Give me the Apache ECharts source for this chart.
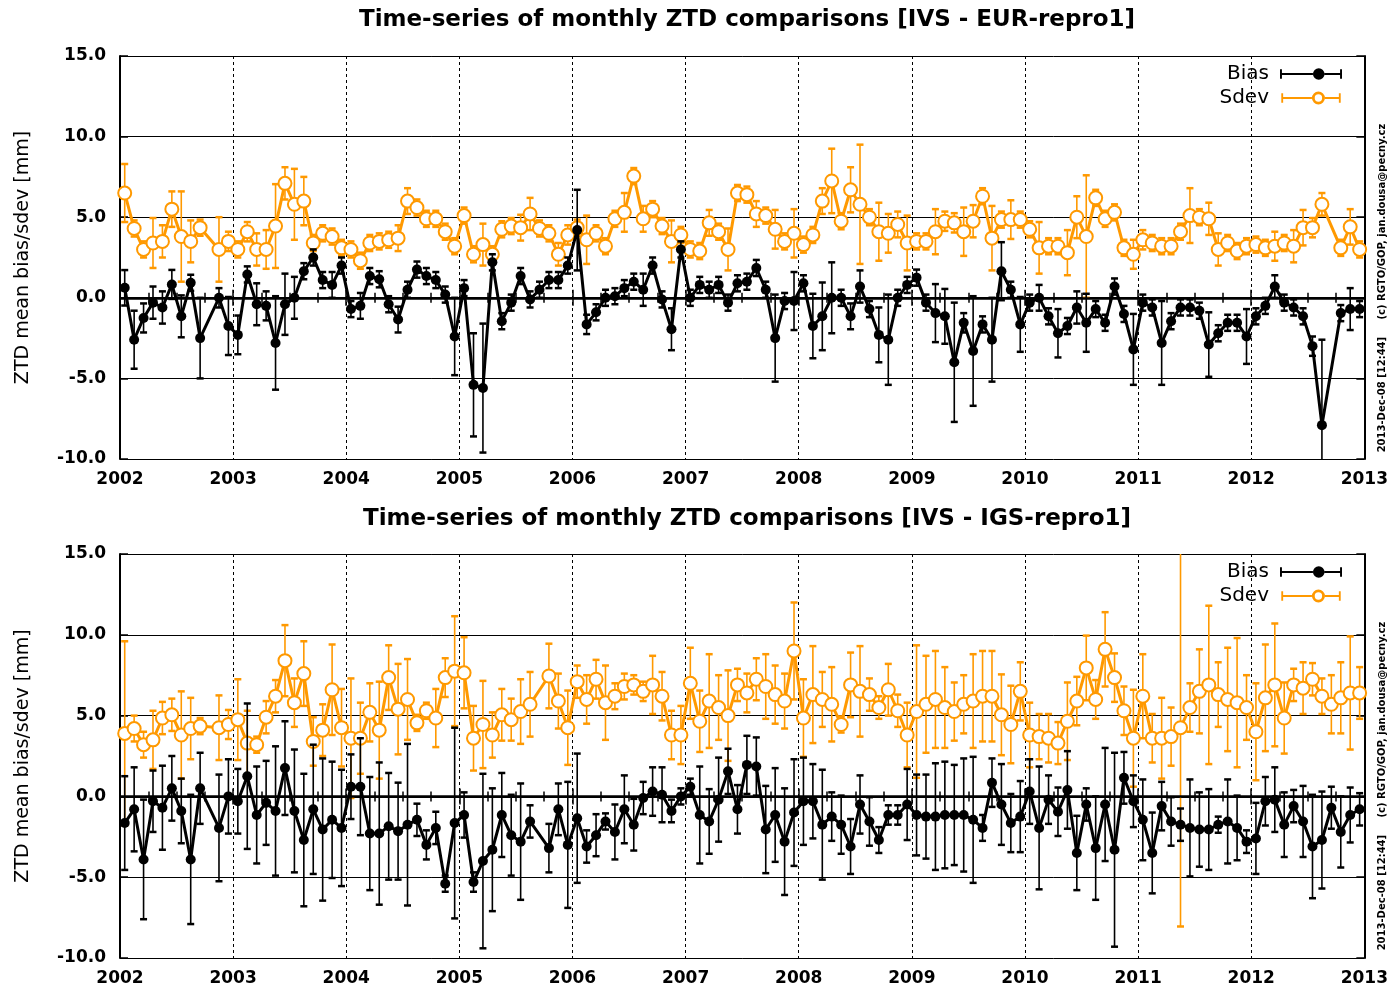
<!DOCTYPE html>
<html>
<head>
<meta charset="utf-8">
<title>Monthly ZTD comparisons</title>
<script src="https://cdn.jsdelivr.net/npm/echarts@6/dist/echarts.min.js"></script>
<style>
  html, body { margin: 0; padding: 0; background: #fff; }
  #chart { width: 1391px; height: 991px; }
</style>
</head>
<body>
<div id="chart"></div>
<script>
// monthly categories 2002-01 .. 2012-12
const months = []
for (let y = 2002; y < 2013; y++) for (let m = 1; m <= 12; m++) months.push(y + '-' + String(m).padStart(2, '0'))

const titles = [
  'Time-series of monthly ZTD comparisons [IVS - EUR-repro1]',
  'Time-series of monthly ZTD comparisons [IVS - IGS-repro1]'
]

// ---- IVS - EUR-repro1 (mm) ----
const biasEur = [
  0.62, -2.6, -1.25, -0.3, -0.6, 0.83, -1.15, 0.93, -2.5, null, 0.0, -1.75,
  -2.3, 1.45, -0.4, -0.5, -2.8, -0.4, 0.0, 1.65, 2.5, 1.1, 0.8, 2.0,
  -0.7, -0.5, 1.35, 1.15, -0.4, -1.35, 0.5, 1.75, 1.35, 1.1, 0.2, -2.4,
  0.6, -5.4, -5.6, 2.2, -1.45, -0.3, 1.35, -0.1, 0.5, 1.1, 1.1, 2.0,
  4.2, -1.65, -0.9, 0.0, 0.1, 0.6, 1.0, 0.5, 2.0, -0.1, -1.95, 3.0,
  0.0, 0.8, 0.5, 0.8, -0.3, 0.9, 1.0, 1.85, 0.5, -2.5, -0.2, -0.2,
  0.9, -1.75, -1.15, 0.0, 0.0, -1.15, 0.7, -0.7, -2.3, -2.6, 0.0, 0.8,
  1.25, -0.3, -0.95, -1.15, -4.0, -1.55, -3.3, -1.65, -2.6, 1.65, 0.5, -1.65,
  -0.3, 0.0, -1.15, -2.2, -1.75, -0.6, -1.55, -0.7, -1.55, 0.7, -1.0, -3.2,
  -0.3, -0.6, -2.8, -1.45, -0.6, -0.6, -0.8, -2.9, -2.2, -1.55, -1.55, -2.4,
  -1.15, -0.5, 0.7, -0.3, -0.6, -1.15, -3.0, -7.9, null, -0.95, -0.7, -0.7
]
const biasEurErr = [
  1.1, 1.8, 0.9, 1.0, 1.0, 0.9, 1.3, 0.5, 2.5, null, 0.6, 1.8,
  1.2, 0.5, 1.3, 0.9, 2.9, 1.9, 1.3, 0.5, 0.5, 0.5, 0.8, 0.5,
  0.5, 0.8, 0.5, 0.5, 0.5, 0.8, 0.5, 0.5, 0.5, 0.5, 0.5, 2.4,
  0.5, 3.2, 4.0, 0.5, 0.5, 0.5, 0.5, 0.5, 0.5, 0.5, 0.5, 0.5,
  2.5, 0.6, 0.5, 0.5, 0.5, 0.5, 0.5, 1.0, 0.5, 0.5, 1.3, 0.5,
  0.5, 0.5, 0.5, 0.5, 0.5, 0.5, 0.5, 0.5, 0.5, 2.7, 0.5, 1.8,
  0.5, 2.0, 2.1, 2.2, 0.5, 0.8, 1.0, 0.5, 1.7, 2.8, 0.5, 0.5,
  0.5, 0.5, 1.8, 1.7, 3.7, 0.6, 3.4, 0.5, 2.6, 1.8, 0.5, 1.7,
  0.5, 0.8, 0.5, 1.5, 0.5, 1.0, 1.8, 0.5, 0.5, 0.5, 0.5, 2.2,
  0.5, 0.5, 2.6, 0.5, 0.5, 0.5, 0.5, 2.0, 0.5, 0.5, 0.5, 1.7,
  0.5, 0.5, 0.7, 0.5, 0.5, 0.5, 0.6, 5.3, null, 0.5, 1.3, 0.5
]
const sdevEur = [
  6.5, 4.3, 3.0, 3.4, 3.5, 5.5, 3.8, 3.5, 4.35, null, 3.0, 3.5,
  3.0, 4.1, 3.0, 3.0, 4.45, 7.1, 5.8, 6.0, 3.4, 4.0, 3.8, 3.1,
  3.0, 2.3, 3.4, 3.5, 3.6, 3.7, 6.0, 5.6, 4.9, 4.9, 4.1, 3.2,
  5.1, 2.7, 3.3, 2.7, 4.25, 4.45, 4.35, 5.2, 4.3, 4.0, 2.7, 3.9,
  4.35, 3.6, 4.0, 3.2, 4.9, 5.3, 7.55, 4.9, 5.5, 4.45, 3.5, 3.9,
  3.0, 2.9, 4.65, 4.1, 3.0, 6.5, 6.4, 5.2, 5.1, 4.25, 3.5, 4.0,
  3.3, 3.9, 6.0, 7.25, 4.75, 6.7, 5.8, 5.0, 4.1, 4.0, 4.55, 3.4,
  3.5, 3.5, 4.1, 4.75, 4.65, 4.1, 4.75, 6.3, 3.7, 4.85, 4.85, 4.85,
  4.25, 3.1, 3.2, 3.2, 2.8, 5.0, 3.8, 6.2, 4.9, 5.3, 3.1, 2.7,
  3.6, 3.4, 3.2, 3.2, 4.1, 5.1, 5.0, 4.9, 3.0, 3.4, 2.9, 3.2,
  3.3, 3.1, 3.2, 3.4, 3.2, 4.35, 4.35, 5.8, null, 3.1, 4.4, 3.0
]
const sdevEurErr = [
  1.8, 0.5, 0.5, 1.55, 1.0, 1.1, 2.8, 1.3, 0.5, null, 2.0, 0.6,
  0.5, 0.6, 1.0, 1.2, 2.6, 1.0, 2.2, 1.5, 0.5, 0.5, 0.5, 0.5,
  0.5, 0.5, 0.5, 0.5, 0.5, 0.8, 0.8, 0.5, 0.5, 0.5, 0.5, 0.5,
  0.5, 0.5, 1.3, 0.5, 0.5, 0.5, 0.8, 1.0, 0.5, 0.5, 0.7, 0.6,
  0.5, 1.5, 0.5, 0.5, 0.5, 1.2, 0.5, 0.8, 0.5, 0.5, 1.3, 0.5,
  0.5, 0.5, 0.8, 0.5, 1.3, 0.5, 0.5, 0.8, 0.5, 1.2, 0.5, 1.5,
  0.5, 0.5, 0.8, 2.0, 0.5, 1.4, 3.7, 0.5, 1.8, 1.2, 0.8, 1.7,
  0.5, 0.5, 1.4, 0.6, 0.6, 1.5, 1.0, 0.5, 2.0, 0.5, 1.2, 0.5,
  0.5, 1.6, 0.5, 0.5, 1.4, 1.3, 3.8, 0.5, 0.5, 0.5, 0.5, 0.9,
  0.6, 0.5, 0.5, 0.5, 0.5, 1.7, 0.5, 1.0, 1.0, 0.5, 0.5, 0.5,
  0.5, 0.5, 0.9, 0.5, 1.0, 1.1, 0.6, 0.7, null, 0.5, 1.1, 0.5
]

// ---- IVS - IGS-repro1 (mm) ----
const biasIgs = [
  -1.65, -0.8, -3.9, -0.3, -0.7, 0.5, -0.9, -3.9, 0.5, null, -1.95, 0.0,
  -0.3, 1.25, -1.15, -0.4, -0.9, 1.75, -0.9, -2.7, -0.8, -2.05, -1.45, -1.95,
  0.6, 0.6, -2.3, -2.3, -1.85, -2.15, -1.75, -1.45, -3.0, -1.95, -5.4, -1.65,
  -1.15, -5.3, -4.0, -3.3, -1.15, -2.4, -2.8, -1.55, null, -3.2, -0.8, -3.0,
  -1.35, -3.1, -2.4, -1.55, -2.2, -0.8, -1.75, -0.1, 0.3, 0.1, -0.9, 0.0,
  0.6, -1.15, -1.55, -0.2, 1.55, -0.8, 1.95, 1.85, -2.05, -1.15, -2.8, -1.0,
  -0.3, -0.3, -1.75, -1.25, -1.75, -3.1, -0.5, -1.55, -2.7, -1.15, -1.15, -0.5,
  -1.15, -1.25, -1.25, -1.15, -1.15, -1.15, -1.45, -1.95, 0.85, -0.5, -1.65, -1.25,
  0.3, -1.95, -0.2, -0.95, 0.4, -3.5, -0.5, -3.2, -0.5, -3.3, 1.15, -0.3,
  -1.45, -3.5, -0.6, -1.55, -1.75, -1.95, -2.05, -2.05, -1.75, -1.55, -1.95, -2.8,
  -2.6, -0.3, -0.2, -1.75, -0.6, -1.55, -3.1, -2.7, -0.7, -2.2, -1.15, -0.8
]
const biasIgsErr = [
  2.9, 2.6, 3.7, 1.9, 2.6, 2.0, 2.0, 4.0, 2.2, null, 3.3, 2.3,
  2.0, 4.5, 3.0, 2.6, 4.0, 2.9, 3.8, 4.1, 4.0, 4.4, 3.6, 3.6,
  2.0, 3.0, 3.5, 4.4, 3.3, 3.0, 5.0, 1.0, 0.9, 1.0, 0.5, 5.9,
  1.4, 0.6, 5.4, 3.8, 2.6, 2.5, 3.6, 1.0, null, 1.5, 1.6, 3.9,
  4.0, 1.0, 1.3, 0.5, 1.7, 2.1, 1.6, 1.0, 1.5, 1.7, 0.7, 0.5,
  0.5, 3.0, 2.0, 2.6, 1.4, 1.5, 1.8, 1.8, 2.7, 2.9, 3.3, 3.3,
  2.7, 2.3, 3.4, 1.5, 1.8, 1.7, 1.8, 1.5, 0.8, 0.6, 0.6, 2.2,
  2.5, 2.6, 3.3, 3.3, 3.1, 3.5, 3.9, 0.8, 1.5, 2.5, 1.8, 2.2,
  2.0, 3.8, 1.5, 1.5, 2.4, 2.3, 1.0, 3.2, 3.5, 6.0, 1.6, 1.6,
  2.5, 2.5, 1.5, 1.5, 1.0, 3.0, 2.3, 2.5, 0.5, 2.6, 2.0, 0.7,
  2.2, 1.5, 2.0, 2.0, 1.0, 2.2, 3.2, 3.0, 1.3, 2.2, 1.7, 1.0
]
const sdevIgs = [
  3.9, 4.2, 3.2, 3.5, 4.85, 5.05, 3.8, 4.2, 4.35, null, 4.25, 4.45,
  4.75, 3.3, 3.2, 4.9, 6.2, 8.4, 5.8, 7.6, 3.4, 4.1, 6.6, 4.25,
  3.6, 3.6, 5.2, 4.1, 7.35, 5.4, 6.0, 4.55, 5.3, 4.85, 7.35, 7.75,
  7.65, 3.6, 4.45, 3.8, 5.05, 4.75, 5.25, 5.7, null, 7.45, 5.9, 4.25,
  7.1, 6.0, 7.25, 5.8, 6.2, 6.8, 6.9, 6.5, 6.9, 6.2, 3.8, 3.8,
  7.0, 4.65, 5.9, 5.5, 5.0, 6.9, 6.4, 7.25, 6.8, 6.3, 5.9, 9.0,
  4.85, 6.3, 6.0, 5.7, 4.45, 6.9, 6.5, 6.3, 5.5, 6.6, 5.3, 3.8,
  5.25, 5.7, 6.0, 5.5, 5.25, 5.7, 5.9, 6.2, 6.2, 5.05, 4.45, 6.5,
  3.8, 3.7, 3.6, 3.3, 4.65, 5.9, 7.95, 6.0, 9.1, 7.35, 5.3, 3.6,
  6.2, 3.6, 3.6, 3.7, 4.25, 5.5, 6.5, 6.9, 6.3, 6.0, 5.8, 5.5,
  4.0, 6.1, 6.9, 4.85, 6.9, 6.7, 7.25, 6.2, 5.7, 6.1, 6.4, 6.4
]
const sdevIgsErr = [
  5.7, 0.8, 0.8, 1.8, 1.0, 1.0, 2.7, 1.9, 0.5, null, 2.0, 0.9,
  2.5, 2.0, 0.5, 1.0, 1.0, 2.2, 1.5, 2.0, 1.5, 1.6, 2.8, 2.4,
  3.7, 2.2, 1.8, 3.0, 2.0, 2.8, 2.5, 0.5, 0.5, 1.8, 1.2, 3.4,
  2.2, 2.0, 2.7, 1.4, 1.6, 1.3, 2.0, 2.0, null, 2.0, 1.7, 2.3,
  1.0, 1.5, 1.2, 2.3, 0.8, 0.8, 0.6, 0.6, 1.8, 1.5, 1.5, 1.8,
  2.2, 1.9, 2.9, 2.0, 2.8, 1.0, 1.2, 1.3, 2.0, 1.8, 1.7, 3.0,
  2.4, 3.0, 1.7, 2.3, 0.5, 2.0, 2.8, 1.0, 0.7, 1.6, 1.0, 2.0,
  4.1, 3.0, 3.0, 2.5, 1.8, 1.8, 2.9, 2.8, 2.8, 2.5, 2.4, 1.8,
  2.0, 1.4, 1.5, 1.3, 2.4, 1.5, 2.0, 1.2, 2.3, 1.5, 1.5, 3.0,
  2.6, 1.5, 2.5, 1.8, 12.3, 1.5, 2.6, 4.9, 2.0, 3.2, 4.0, 2.0,
  3.0, 3.3, 3.8, 2.2, 1.0, 1.6, 1.0, 1.1, 1.8, 2.2, 3.5, 1.6
]

const FONT = "'DejaVu Sans', 'Liberation Sans', Arial, sans-serif"
const ORANGE = '#ff9900'
const BLACK = '#000000'

// month label -> decimal year (mid month)
function toYear(label) {
  const [y, m] = label.split('-').map(Number)
  return y + (m - 0.5) / 12
}
function linePts(vals) {
  const out = []
  vals.forEach((v, i) => { if (v != null) out.push([toYear(months[i]), v]) })
  return out
}
function barPts(vals, errs) {
  const out = []
  vals.forEach((v, i) => { if (v != null && errs[i] != null) out.push([toYear(months[i]), v - errs[i], v + errs[i]]) })
  return out
}

function errorBar(color) {
  return function (params, api) {
    const x = api.value(0)
    const pLo = api.coord([x, api.value(1)])
    const pHi = api.coord([x, api.value(2)])
    const cs = params.coordSys
    const top = cs.y, bottom = cs.y + cs.height
    const yHi = Math.max(pHi[1], top)
    const yLo = Math.min(pLo[1], bottom)
    const st = { stroke: color, lineWidth: 1.6 }
    const kids = [{ type: 'line', shape: { x1: pLo[0], y1: yLo, x2: pLo[0], y2: yHi }, style: st }]
    if (pHi[1] >= top) kids.push({ type: 'line', shape: { x1: pHi[0] - 3.5, y1: yHi, x2: pHi[0] + 3.5, y2: yHi }, style: { stroke: color, lineWidth: 2.5 } })
    if (pLo[1] <= bottom) kids.push({ type: 'line', shape: { x1: pLo[0] - 3.5, y1: yLo, x2: pLo[0] + 3.5, y2: yLo }, style: { stroke: color, lineWidth: 2.5 } })
    return { type: 'group', children: kids }
  }
}

// legend icons  |---o---|
const biasIcon = 'path://M0,2h2v10h-2zM62,2h2v10h-2zM0,6h34v2h-34zM46,6h18v2h-18zM34,7a6,6 0 1,0 12,0a6,6 0 1,0 -12,0z'
const sdevIcon = 'path://M0,2h2v10h-2zM62,2h2v10h-2zM0,6h33v2h-33zM47,6h17v2h-17zM33,7a7,7 0 1,0 14,0a7,7 0 1,0 -14,0zM36,7a4,4 0 1,1 8,0a4,4 0 1,1 -8,0z'

const gridPos = [
  { left: 120, top: 56, width: 1245, height: 403 },
  { left: 120, top: 554, width: 1245, height: 404 }
]

const xAxes = [], yAxes = [], series = [], legends = []
gridPos.forEach((g, k) => {
  const common = {
    type: 'value', gridIndex: k, min: 2002, max: 2013, interval: 1
  }
  xAxes.push(Object.assign({}, common, {
    position: 'bottom',
    axisLine: { show: true, lineStyle: { color: BLACK, width: 2 } },
    axisTick: { show: true, inside: true, length: 8, lineStyle: { color: BLACK, width: 1.5 } },
    minorTick: { show: true, splitNumber: 4, length: 5, lineStyle: { color: BLACK, width: 1.5 } },
    axisLabel: { color: BLACK, fontFamily: FONT, fontWeight: 'bold', fontSize: 17, margin: 12, formatter: v => String(v) },
    splitLine: { show: true, lineStyle: { color: BLACK, width: 1, type: [3, 3] } }
  }))
  xAxes.push(Object.assign({}, common, {
    position: 'top',
    axisLine: { show: true, lineStyle: { color: BLACK, width: 2 } },
    axisTick: { show: true, inside: true, length: 8, lineStyle: { color: BLACK, width: 1.5 } },
    minorTick: { show: true, splitNumber: 4, length: 5, lineStyle: { color: BLACK, width: 1.5 } },
    axisLabel: { show: false },
    splitLine: { show: false }
  }))
  const yCommon = { type: 'value', gridIndex: k, min: -10, max: 15, interval: 5 }
  yAxes.push(Object.assign({}, yCommon, {
    position: 'left',
    name: 'ZTD mean bias/sdev [mm]',
    nameLocation: 'middle',
    nameGap: 87,
    nameTextStyle: { color: BLACK, fontFamily: FONT, fontSize: 19 },
    axisLine: { show: true, lineStyle: { color: BLACK, width: 2 } },
    axisTick: { show: true, inside: true, length: 8, lineStyle: { color: BLACK, width: 1.5 } },
    axisLabel: { color: BLACK, fontFamily: FONT, fontWeight: 'bold', fontSize: 17, margin: 14, formatter: v => v.toFixed(1) },
    splitLine: { show: true, lineStyle: { color: BLACK, width: 1 } }
  }))
  yAxes.push(Object.assign({}, yCommon, {
    position: 'right',
    axisLine: { show: true, lineStyle: { color: BLACK, width: 2 } },
    axisTick: { show: true, inside: true, length: 8, lineStyle: { color: BLACK, width: 1.5 } },
    axisLabel: { show: false },
    splitLine: { show: false }
  }))

  const bias = k === 0 ? biasEur : biasIgs
  const biasErr = k === 0 ? biasEurErr : biasIgsErr
  const sdev = k === 0 ? sdevEur : sdevIgs
  const sdevErr = k === 0 ? sdevEurErr : sdevIgsErr
  const xi = k * 2, yi = k * 2

  series.push({
    name: 'Sdev', type: 'custom', xAxisIndex: xi, yAxisIndex: yi, z: 2, silent: true,
    renderItem: errorBar(ORANGE), encode: { x: 0, y: [1, 2] },
    data: barPts(sdev, sdevErr),
    markLine: {
      silent: true, symbol: 'none', label: { show: false },
      lineStyle: { color: BLACK, width: 2.5, type: 'solid' },
      data: [{ yAxis: 0 }]
    }
  })
  series.push({
    name: 'Sdev', type: 'line', xAxisIndex: xi, yAxisIndex: yi, z: 3,
    data: linePts(sdev),
    symbol: 'emptyCircle', symbolSize: 13,
    lineStyle: { color: ORANGE, width: 3 },
    itemStyle: { color: ORANGE, borderWidth: 2.5 },
    animation: false
  })
  series.push({
    name: 'Bias', type: 'custom', xAxisIndex: xi, yAxisIndex: yi, z: 4, silent: true,
    renderItem: errorBar(BLACK), encode: { x: 0, y: [1, 2] },
    data: barPts(bias, biasErr)
  })
  series.push({
    name: 'Bias', type: 'line', xAxisIndex: xi, yAxisIndex: yi, z: 5,
    data: linePts(bias),
    symbol: 'circle', symbolSize: 10,
    lineStyle: { color: BLACK, width: 3 },
    itemStyle: { color: BLACK },
    animation: false
  })

  legends.push({
    orient: 'vertical', align: 'right',
    right: 44, top: g.top + 3,
    itemWidth: 62, itemHeight: 13, itemGap: 4,
    selectedMode: false,
    textStyle: { color: BLACK, fontFamily: FONT, fontSize: 20, padding: [0, 6, 0, 0] },
    data: [
      { name: 'Bias', icon: biasIcon, itemStyle: { color: BLACK, borderWidth: 0 } },
      { name: 'Sdev', icon: sdevIcon, itemStyle: { color: ORANGE, borderWidth: 0 } }
    ]
  })
})

const chart = echarts.init(document.getElementById('chart'), null, { renderer: 'canvas' })
chart.setOption({
  backgroundColor: '#fff',
  animation: false,
  title: titles.map((t, k) => ({
    text: t, left: 742, top: k === 0 ? 4 : 503, textAlign: 'center',
    textStyle: { color: BLACK, fontFamily: FONT, fontWeight: 'bold', fontSize: 23 }
  })),
  legend: legends,
  grid: gridPos,
  xAxis: xAxes,
  yAxis: yAxes,
  series: series,
  graphic: gridPos.map(g => ({
    type: 'text', x: 1382, y: g.top + 232, rotation: Math.PI / 2, silent: true,
    style: {
      text: '2013-Dec-08 [12:44]     (c) RGTO/GOP, jan.dousa@pecny.cz',
      align: 'center', verticalAlign: 'middle',
      font: 'bold 10px ' + FONT, fill: BLACK
    }
  }))
})
</script>
</body>
</html>
